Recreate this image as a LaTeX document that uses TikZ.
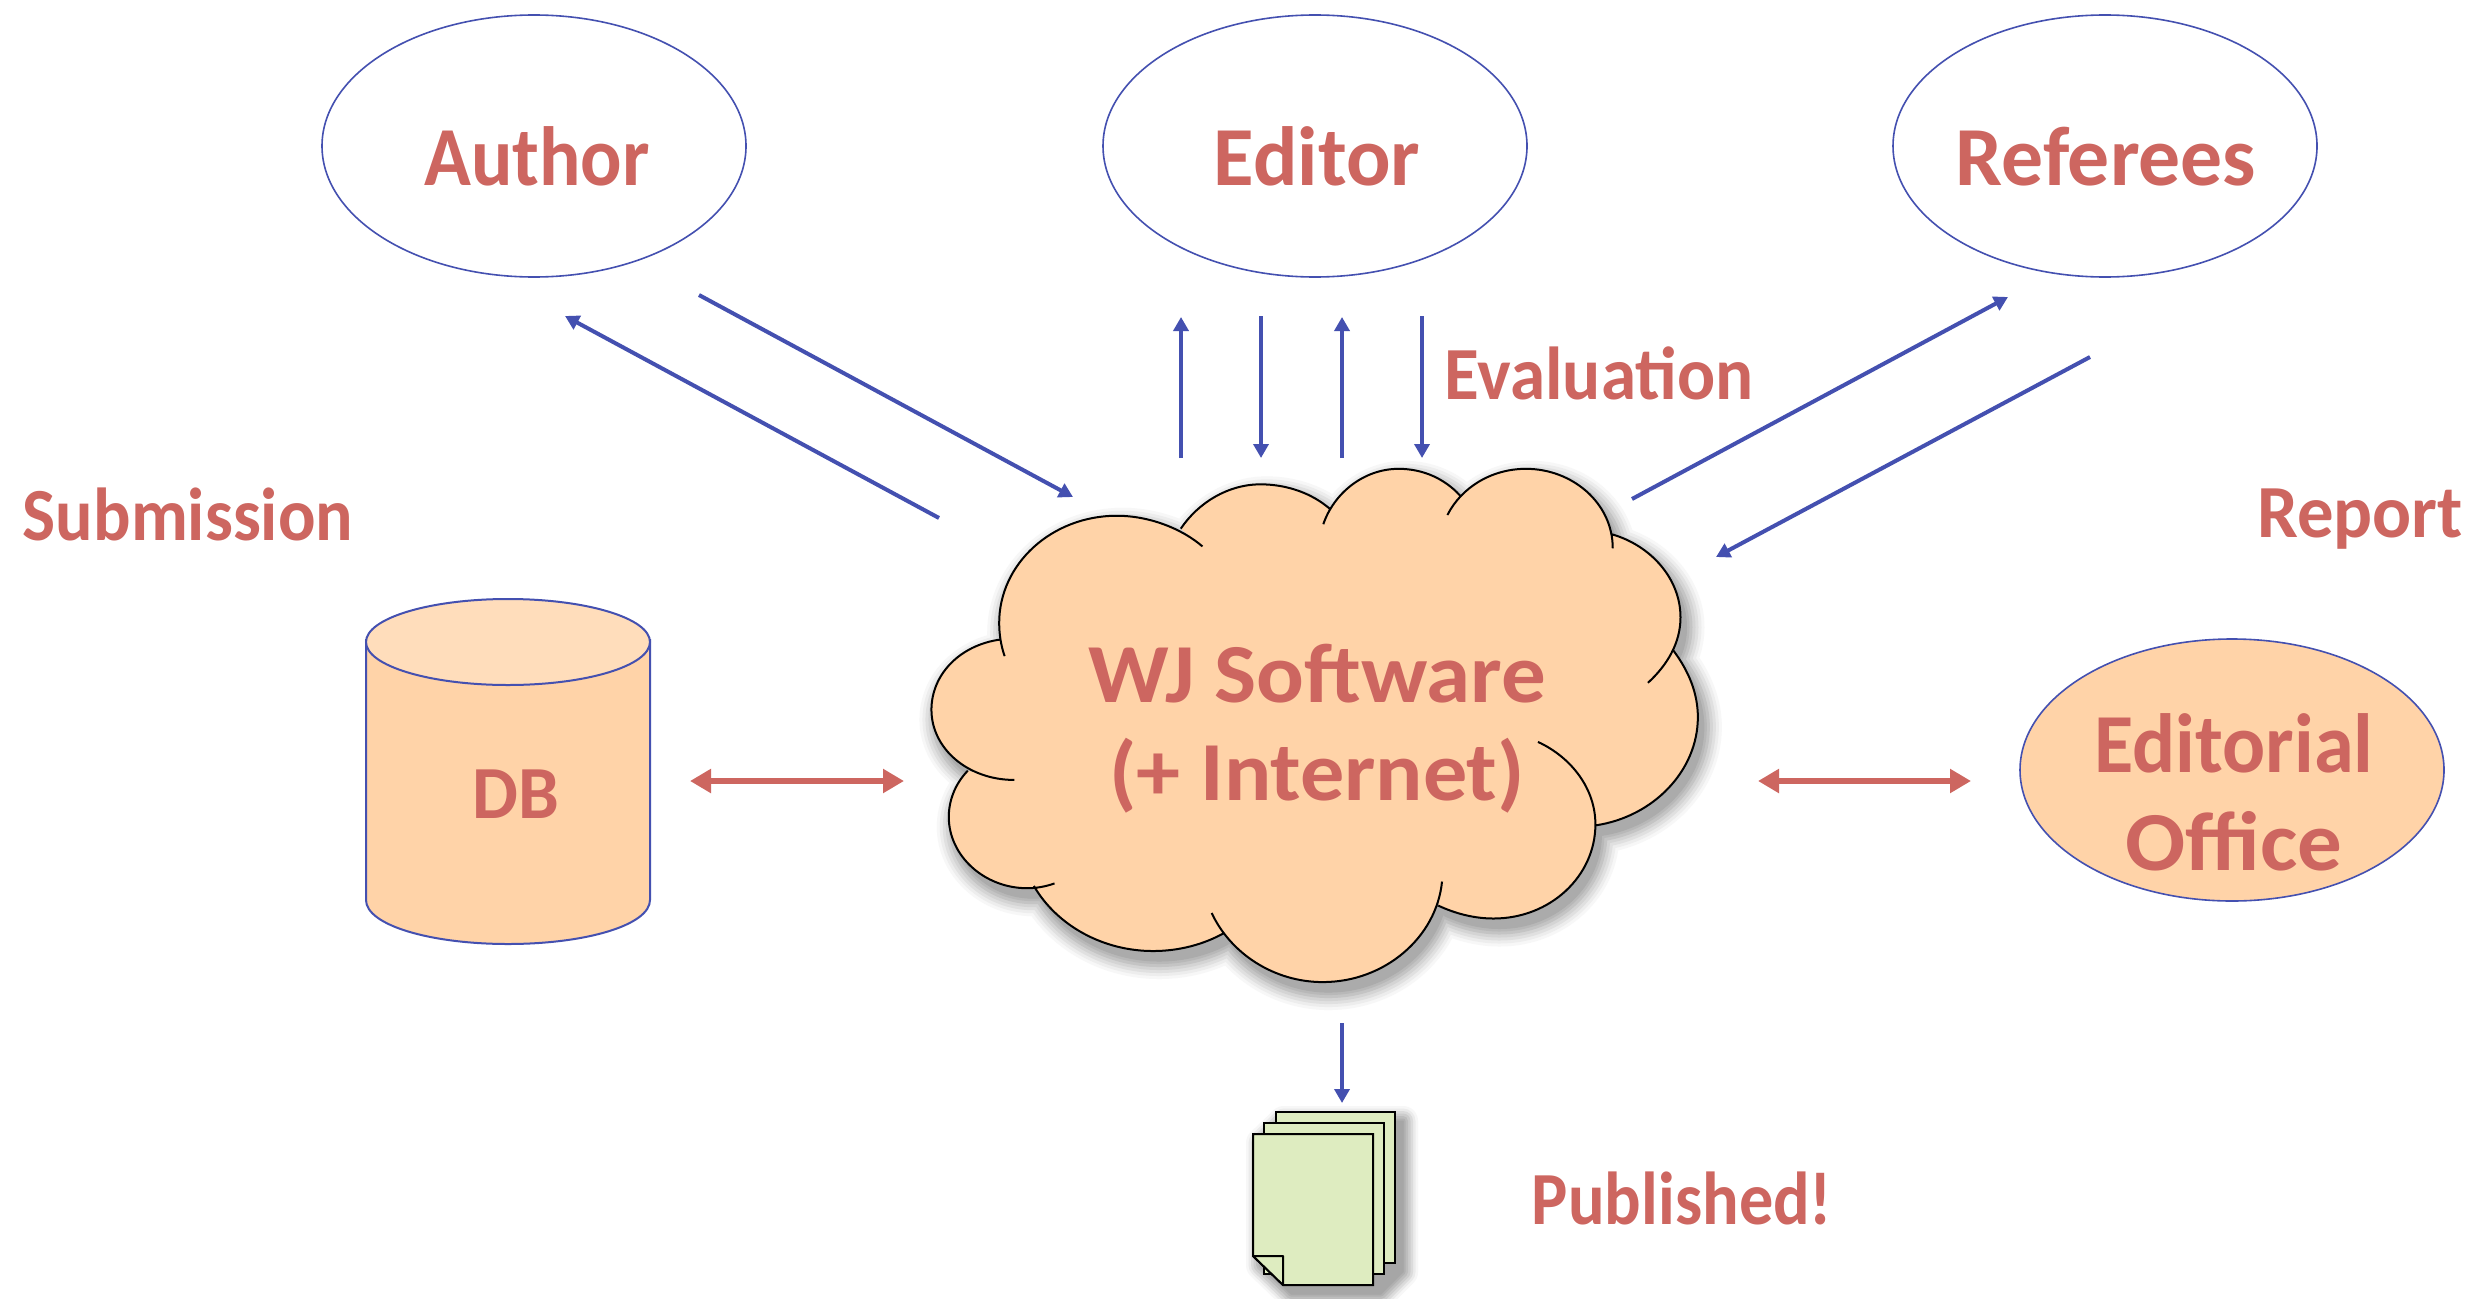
\documentclass[tikz,border=0pt]{standalone}
\usepackage{fontspec}
\setmainfont{Carlito}
\usetikzlibrary{arrows.meta,shapes.geometric}
\definecolor{txtred}{HTML}{CD6660}
\definecolor{lineblue}{HTML}{4450B0}
\definecolor{peach}{HTML}{FFD3A8}
\definecolor{peachlt}{HTML}{FFDDBB}
\definecolor{paper}{HTML}{DEECC0}
\newcommand{\lobeA}{(193,585) .. controls (186,555) and (183,525) .. (183,495) .. controls (183,335) and (280,205) .. (400,205) .. controls (460,205) and (520,240) .. (558,288)}
\newcommand{\lobeB}{(518,240) .. controls (550,170) and (605,120) .. (665,120) .. controls (715,120) and (760,145) .. (792,185)}
\newcommand{\lobeC}{(781,228) .. controls (800,145) and (855,78) .. (920,78) .. controls (965,78) and (1005,105) .. (1033,150)}
\newcommand{\lobeD}{(1010,203) .. controls (1035,130) and (1090,78) .. (1155,78) .. controls (1240,78) and (1315,170) .. (1315,293)}
\newcommand{\lobeE}{(1313,255) .. controls (1385,285) and (1440,375) .. (1440,480) .. controls (1440,550) and (1415,610) .. (1380,657)}
\newcommand{\lobeF}{(1427,570) .. controls (1455,625) and (1472,685) .. (1472,750) .. controls (1472,895) and (1390,1020) .. (1283,1043)}
\newcommand{\lobeG}{(1177,817) .. controls (1240,860) and (1283,945) .. (1283,1040) .. controls (1283,1180) and (1200,1295) .. (1095,1295) .. controls (1060,1295) and (1025,1282) .. (993,1260)}
\newcommand{\lobeH}{(1000,1195) .. controls (990,1345) and (895,1467) .. (780,1467) .. controls (690,1467) and (610,1390) .. (575,1280)}
\newcommand{\lobeI}{(597,1335) .. controls (560,1365) and (515,1383) .. (467,1383) .. controls (375,1383) and (290,1315) .. (247,1207)}
\newcommand{\lobeJ}{(285,1200) .. controls (270,1208) and (252,1213) .. (235,1213) .. controls (155,1213) and (90,1125) .. (90,1020) .. controls (90,975) and (102,930) .. (125,895)}
\newcommand{\lobeK}{(211,920) .. controls (125,920) and (58,835) .. (58,730) .. controls (58,635) and (110,555) .. (185,540)}
\newcommand{\cloudwhole}{\lobeA -- \lobeB -- \lobeC -- \lobeD -- \lobeE -- \lobeF -- \lobeG -- \lobeH -- \lobeI -- \lobeJ -- \lobeK -- cycle}
\newcommand{\papersil}{(1276,1112) -- (1395,1112) -- (1395,1263) -- (1373,1285) -- (1283,1285) -- (1253,1256) -- (1253,1134) -- cycle}
\newcommand{\sx}[2]{\scalebox{#1}[1]{#2}}
\tikzset{
  every node/.style={inner sep=0pt,outer sep=0pt},
  lbl/.style={text=txtred,font=\fontsize{84}{98}\selectfont\bfseries,align=center},
  lblsm/.style={text=txtred,font=\fontsize{75}{98}\selectfont\bfseries,align=center},
  oval/.style={ellipse,draw=lineblue,line width=1.6pt,minimum width=424pt,minimum height=262pt},
  blue arrow/.style={draw=lineblue,line width=4pt,-{Triangle[length=14pt,width=15pt]}},
  red arrow/.style={draw=txtred,line width=6pt,{Triangle[length=21pt,width=23pt]}-{Triangle[length=21pt,width=23pt]}},
  sheet/.style={fill=paper,draw=black,line width=2pt},
  cloud scope/.style={x=0.542pt,y=-0.3695pt}
}
\begin{document}
\begin{tikzpicture}[x=1pt,y=-1pt]
\useasboundingbox (0,0) rectangle (2475,1298);
\fill[white] (0,0) rectangle (2475,1298);
% ovals
\node[oval] (author) at (534,146) {};
\node[oval] (editor) at (1315,146) {};
\node[oval] (referees) at (2105,146) {};
\node[oval,fill=peach] (office) at (2232,770) {};
% cylinder
\path[fill=peach,draw=lineblue,line width=2pt] (366,640) -- (366,900) .. controls (366,925) and (430,944) .. (508,944) .. controls (586,944) and (650,925) .. (650,900) -- (650,640) -- cycle;
\path[fill=peachlt,draw=lineblue,line width=2pt] (508,642) ellipse [x radius=142pt,y radius=43pt];
% cloud shadow
\begin{scope}[shift={(906,450)}]
\begin{scope}[cloud scope]
\foreach \w/\g in {36/3,30/7,24/12,18/17,12/23,6/28,1/33}{
  \path[draw=black!\g,fill=black!\g,line width=\w pt,line join=round] \cloudwhole;
}
\end{scope}
\end{scope}
% cloud
\begin{scope}[shift={(900,440)}]
\begin{scope}[cloud scope]
\path[fill=peach] \cloudwhole;
\draw[black,line width=2pt] \lobeA \lobeB \lobeC \lobeD \lobeE \lobeF \lobeG \lobeH \lobeI \lobeJ \lobeK;
\end{scope}
\end{scope}
% papers shadow
\begin{scope}[shift={(8,9)}]
\foreach \w/\g in {30/3,25/8,20/14,15/20,10/26,5/31,1/35}{
  \path[draw=black!\g,fill=black!\g,line width=\w pt,line join=round] \papersil;
}
\end{scope}
\draw[sheet] (1276,1112) rectangle (1395,1263);
\draw[sheet] (1264,1123) rectangle (1384,1274);
\draw[sheet] (1253,1134) -- (1373,1134) -- (1373,1285) -- (1283,1285) -- (1253,1256) -- cycle;
\draw[sheet,line join=round] (1253,1256) -- (1283,1256) -- (1283,1285) -- cycle;
% labels
\node[lbl] (tauthor) at (537,156) {\sx{.92}{Author}};
\node[lbl] (teditor) at (1317,156) {\sx{.988}{Editor}};
\node[lbl] (treferees) at (2106,157) {\sx{.996}{Referees}};
\node[lblsm] (teval) at (1599,373) {\sx{.948}{Evaluation}};
\node[lblsm] (tsub) at (188,514) {\sx{.933}{Submission}};
\node[lblsm] (treport) at (2360,519) {\sx{.97}{Report}};
\node[lblsm] (tdb) at (516,794) {\sx{.97}{DB}};
\node[lbl] (twj) at (1317,729) {\sx{1.06}{WJ Software}\\\sx{1.05}{(+ Internet)}};
\node[lbl] (toffice) at (2234,792) {\sx{.957}{Editorial}\\\sx{1.06}{Office}};
\node[lblsm] (tpub) at (1682,1198) {\sx{.91}{Published!}};
% connector ends
\coordinate (a1) at (939,518); \coordinate (a2) at (565,316);
\coordinate (a3) at (699,295); \coordinate (a4) at (1073,497);
\coordinate (e1) at (1181,458); \coordinate (e2) at (1181,317);
\coordinate (e3) at (1261,316); \coordinate (e4) at (1261,458);
\coordinate (e5) at (1342,458); \coordinate (e6) at (1342,317);
\coordinate (e7) at (1422,316); \coordinate (e8) at (1422,458);
\coordinate (r1) at (1632,499); \coordinate (r2) at (2008,297);
\coordinate (r3) at (2090,357); \coordinate (r4) at (1716,557);
\coordinate (p1) at (1342,1023); \coordinate (p2) at (1342,1103);
\coordinate (d1) at (690,781); \coordinate (d2) at (904,781);
\coordinate (o1) at (1758,781); \coordinate (o2) at (1971,781);
\draw[blue arrow] (a1) -- (a2);
\draw[blue arrow] (a3) -- (a4);
\draw[blue arrow] (e1) -- (e2);
\draw[blue arrow] (e3) -- (e4);
\draw[blue arrow] (e5) -- (e6);
\draw[blue arrow] (e7) -- (e8);
\draw[blue arrow] (r1) -- (r2);
\draw[blue arrow] (r3) -- (r4);
\draw[blue arrow] (p1) -- (p2);
\draw[red arrow] (d1) -- (d2);
\draw[red arrow] (o1) -- (o2);
\end{tikzpicture}
\end{document}
